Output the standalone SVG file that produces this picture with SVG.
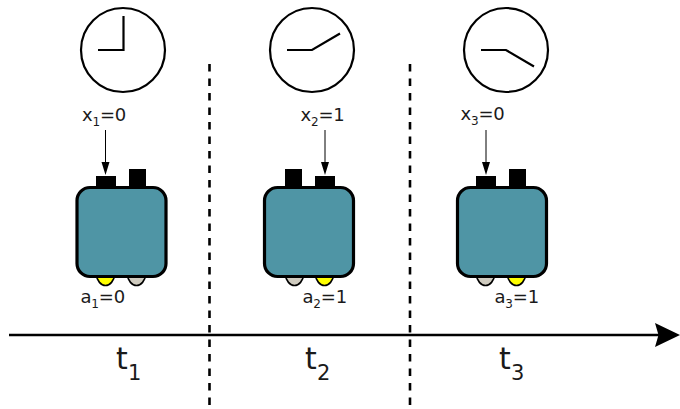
<svg xmlns="http://www.w3.org/2000/svg" width="680" height="409" viewBox="0 0 680 409">
<style>
text{font-family:"DejaVu Sans",sans-serif;fill:#1a1a1a}
.l{font-size:18px;letter-spacing:-0.2px}.s{font-size:12px}
.T{font-size:30px}.S{font-size:21px}
.clock{fill:#fff;stroke:#000;stroke-width:2.200}
.hand{fill:none;stroke:#000;stroke-width:2.200}
.body{fill:#4f95a5;stroke:#000;stroke-width:3.200}
.on{fill:#ff0;stroke:#000;stroke-width:1.600}
.off{fill:#cfcbbf;stroke:#000;stroke-width:1.600}
.dash{stroke:#000;stroke-width:2.600;stroke-dasharray:7.500 7;fill:none}
.axis{stroke:#000;stroke-width:2.600;fill:none}
.in{stroke:#000;stroke-width:1;fill:none}
</style>
<g id="connectors">
<path class="dash" d="M209.500,64V407M410,64V407"/>
<path class="axis" d="M9,335H662"/>
<path d="M655,323L680,335L655,347L658.500,335Z" fill="#000"/>
<path class="in" d="M105.500,130V164M325,130V164M486,130V164"/>
<path d="M101.500,162H109.500L105.500,175ZM321,162H329L325,175ZM482,162H490L486,175Z" fill="#000"/>
</g>
<g id="clock1"><circle class="clock" cx="123" cy="50" r="42"/><path class="hand" d="M98,50H123.500V16"/></g>
<g id="clock2"><circle class="clock" cx="312" cy="50" r="42"/><path class="hand" d="M287,50H312L340,33.500"/></g>
<g id="clock3"><circle class="clock" cx="506" cy="50" r="42"/><path class="hand" d="M481,50H506L534,66.500"/></g>
<g id="robot1">
<path class="on" d="M96,274C97,281 101,285.500 105.500,285.500C110,285.500 114,281 115,274Z"/>
<path class="off" d="M127,274C128,281 132,285.500 136.500,285.500C141,285.500 145,281 146,274Z"/>
<rect x="96" y="176" width="20" height="12" fill="#000"/><rect x="129" y="169" width="17" height="19" fill="#000"/>
<rect class="body" x="77" y="187.500" width="89" height="89" rx="13"/>
</g>
<g id="robot2">
<path class="off" d="M285,274C286,281 290,285.500 294.500,285.500C299,285.500 303,281 304,274Z"/>
<path class="on" d="M315,274C316,281 320,285.500 324.500,285.500C329,285.500 333,281 334,274Z"/>
<rect x="285" y="169" width="17" height="19" fill="#000"/><rect x="315" y="176" width="20" height="12" fill="#000"/>
<rect class="body" x="264.500" y="187.500" width="89" height="89" rx="13"/>
</g>
<g id="robot3">
<path class="off" d="M476,274C477,281 481,285.500 485.500,285.500C490,285.500 494,281 495,274Z"/>
<path class="on" d="M507,274C508,281 512,285.500 516.500,285.500C521,285.500 525,281 526,274Z"/>
<rect x="476" y="176" width="20" height="12" fill="#000"/><rect x="509" y="169" width="17" height="19" fill="#000"/>
<rect class="body" x="457.500" y="187.500" width="89" height="89" rx="13"/>
</g>
<g id="labels">
<text class="l" x="82" y="121">x<tspan class="s" dy="4.500">1</tspan><tspan dy="-4.500">=0</tspan></text>
<text class="l" x="300.500" y="121">x<tspan class="s" dy="4.500">2</tspan><tspan dy="-4.500">=1</tspan></text>
<text class="l" x="460.500" y="120">x<tspan class="s" dy="4.500">3</tspan><tspan dy="-4.500">=0</tspan></text>
<text class="l" x="80.500" y="303">a<tspan class="s" dy="4.500">1</tspan><tspan dy="-4.500">=0</tspan></text>
<text class="l" x="302.500" y="303">a<tspan class="s" dy="4.500">2</tspan><tspan dy="-4.500">=1</tspan></text>
<text class="l" x="494.500" y="303">a<tspan class="s" dy="4.500">3</tspan><tspan dy="-4.500">=1</tspan></text>
<text class="T" x="116" y="369">t<tspan class="S" dy="11" x="128">1</tspan></text>
<text class="T" x="305" y="369">t<tspan class="S" dy="11" x="317">2</tspan></text>
<text class="T" x="499" y="369">t<tspan class="S" dy="11" x="511">3</tspan></text>
</g>
</svg>
